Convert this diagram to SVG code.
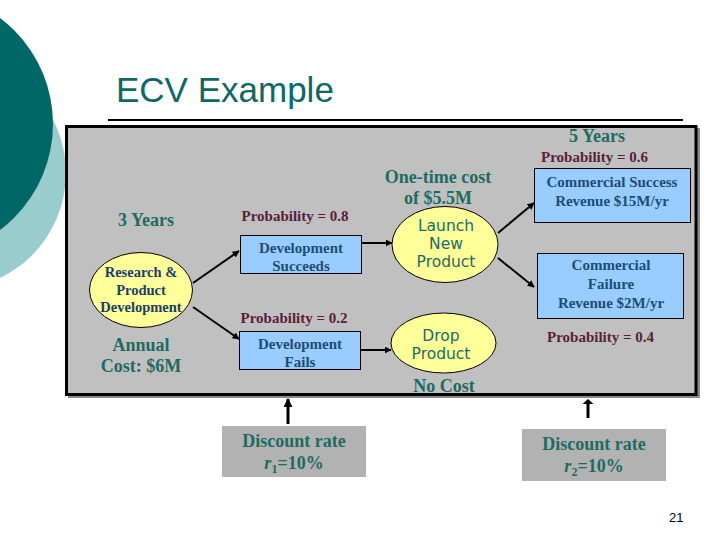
<svg xmlns="http://www.w3.org/2000/svg" width="720" height="540" viewBox="0 0 720 540">
<defs>
<marker id="ah" viewBox="0 0 10 10" refX="9" refY="5" markerWidth="7" markerHeight="7" markerUnits="userSpaceOnUse" orient="auto"><path d="M0,0 L10,5 L0,10 z" fill="#000"/></marker>
<marker id="ahw" viewBox="0 0 10 10" refX="9" refY="5" markerWidth="9" markerHeight="9" markerUnits="userSpaceOnUse" orient="auto"><path d="M0,0 L10,5 L0,10 z" fill="#000"/></marker>
<style>
.b{font-family:"Liberation Serif","Times New Roman",serif;font-weight:bold;text-anchor:middle}
.teal{fill:#1E6B62;font-size:18px}
.prob{fill:#5A1D3C;font-size:15px}
.nav{fill:#1B3D6A;font-size:14.5px}
.box{fill:#99CCFF;stroke:#000;stroke-width:1}
.bt{fill:#1D4E74;font-size:15px}
.ell{fill:#FFFF99;stroke:#000;stroke-width:1}
.sans{font-family:"DejaVu Sans",Verdana,sans-serif;font-size:15.5px;fill:#1E6B62;text-anchor:middle}
.disc{fill:#B2B2B2}
.con{stroke:#000;stroke-width:2;fill:none}
</style>
</defs>
<rect width="720" height="540" fill="#fff"/>
<g id="decor">
<circle cx="-50.5" cy="173" r="116.5" fill="#99CCCC"/>
<circle cx="-79.5" cy="124" r="132.5" fill="#006666"/>
</g>
<text x="116" y="102" font-family="Liberation Sans,Arial,sans-serif" font-size="35" fill="#0E6868">ECV Example</text>
<line x1="108" y1="120" x2="683" y2="120" stroke="#000" stroke-width="2"/>
<g id="panel">
<rect x="68" y="128" width="632" height="270" fill="#8A8A8A"/>
<rect x="66.5" y="126.5" width="629.5" height="268" fill="#C0C0C0" stroke="#000" stroke-width="3"/>
</g>
<g id="connectors">
<line class="con" x1="193" y1="283" x2="239" y2="251" marker-end="url(#ah)"/>
<line class="con" x1="193" y1="307" x2="239" y2="339" marker-end="url(#ah)"/>
<line class="con" x1="362" y1="243" x2="392" y2="243" marker-end="url(#ah)"/>
<line class="con" x1="360" y1="350" x2="391" y2="350" marker-end="url(#ah)"/>
<line class="con" x1="498" y1="233" x2="534" y2="203" marker-end="url(#ah)"/>
<line class="con" x1="498" y1="258" x2="534" y2="287" marker-end="url(#ah)"/>
<line stroke="#000" stroke-width="3" x1="288" y1="424" x2="288" y2="399" marker-end="url(#ahw)"/>
<line stroke="#000" stroke-width="3" x1="588" y1="418" x2="588" y2="403"/>
<polygon points="582.5,404 593.5,404 588,399" fill="#000"/>
</g>
<g id="research">
<ellipse class="ell" cx="141" cy="290" rx="51.5" ry="37.5"/>
<text class="b nav" x="141" y="277">Research &amp;</text>
<text class="b nav" x="141" y="295">Product</text>
<text class="b nav" x="141" y="312">Development</text>
</g>
<g id="dev-succeeds">
<rect class="box" x="240.5" y="235.5" width="121" height="38"/>
<text class="b bt" x="301" y="253">Development</text>
<text class="b bt" x="301" y="271">Succeeds</text>
</g>
<g id="dev-fails">
<rect class="box" x="239.5" y="331.5" width="121" height="38"/>
<text class="b bt" x="300" y="349">Development</text>
<text class="b bt" x="300" y="367">Fails</text>
</g>
<g id="launch">
<ellipse class="ell" cx="445" cy="244.5" rx="53" ry="38"/>
<text class="sans" x="446" y="231">Launch</text>
<text class="sans" x="446" y="249">New</text>
<text class="sans" x="446" y="267">Product</text>
</g>
<g id="drop">
<ellipse class="ell" cx="443.5" cy="343" rx="52.5" ry="30"/>
<text class="sans" x="441" y="341">Drop</text>
<text class="sans" x="441" y="359">Product</text>
</g>
<g id="comm-success">
<rect class="box" x="534.5" y="168.5" width="156" height="54"/>
<text class="b bt" x="612" y="187">Commercial Success</text>
<text class="b bt" x="612" y="206">Revenue $15M/yr</text>
</g>
<g id="comm-failure">
<rect class="box" x="537.5" y="253.5" width="146" height="65"/>
<text class="b bt" x="611" y="270">Commercial</text>
<text class="b bt" x="611" y="289">Failure</text>
<text class="b bt" x="611" y="308">Revenue $2M/yr</text>
</g>
<g id="labels">
<text class="b teal" x="597" y="142">5 Years</text>
<text class="b prob" x="594.5" y="162">Probability = 0.6</text>
<text class="b teal" x="438" y="183">One-time cost</text>
<text class="b teal" x="438" y="204">of $5.5M</text>
<text class="b teal" x="146" y="226">3 Years</text>
<text class="b prob" x="295" y="221">Probability = 0.8</text>
<text class="b prob" x="294" y="323">Probability = 0.2</text>
<text class="b teal" x="141" y="351">Annual</text>
<text class="b teal" x="141" y="372">Cost: $6M</text>
<text class="b prob" x="600.5" y="342">Probability = 0.4</text>
<text class="b teal" x="444" y="392">No Cost</text>
</g>
<g id="discount1">
<rect class="disc" x="222" y="426" width="144" height="51"/>
<text class="b teal" x="294" y="447">Discount rate</text>
<text class="b teal" x="294" y="469"><tspan font-style="italic">r</tspan><tspan font-size="12" dy="4">1</tspan><tspan dy="-4">=10%</tspan></text>
</g>
<g id="discount2">
<rect class="disc" x="522" y="429" width="144" height="52"/>
<text class="b teal" x="594" y="450">Discount rate</text>
<text class="b teal" x="594" y="472"><tspan font-style="italic">r</tspan><tspan font-size="12" dy="4">2</tspan><tspan dy="-4">=10%</tspan></text>
</g>
<text x="669" y="522" font-family="Liberation Sans,Arial,sans-serif" font-size="13" fill="#000">21</text>
</svg>
